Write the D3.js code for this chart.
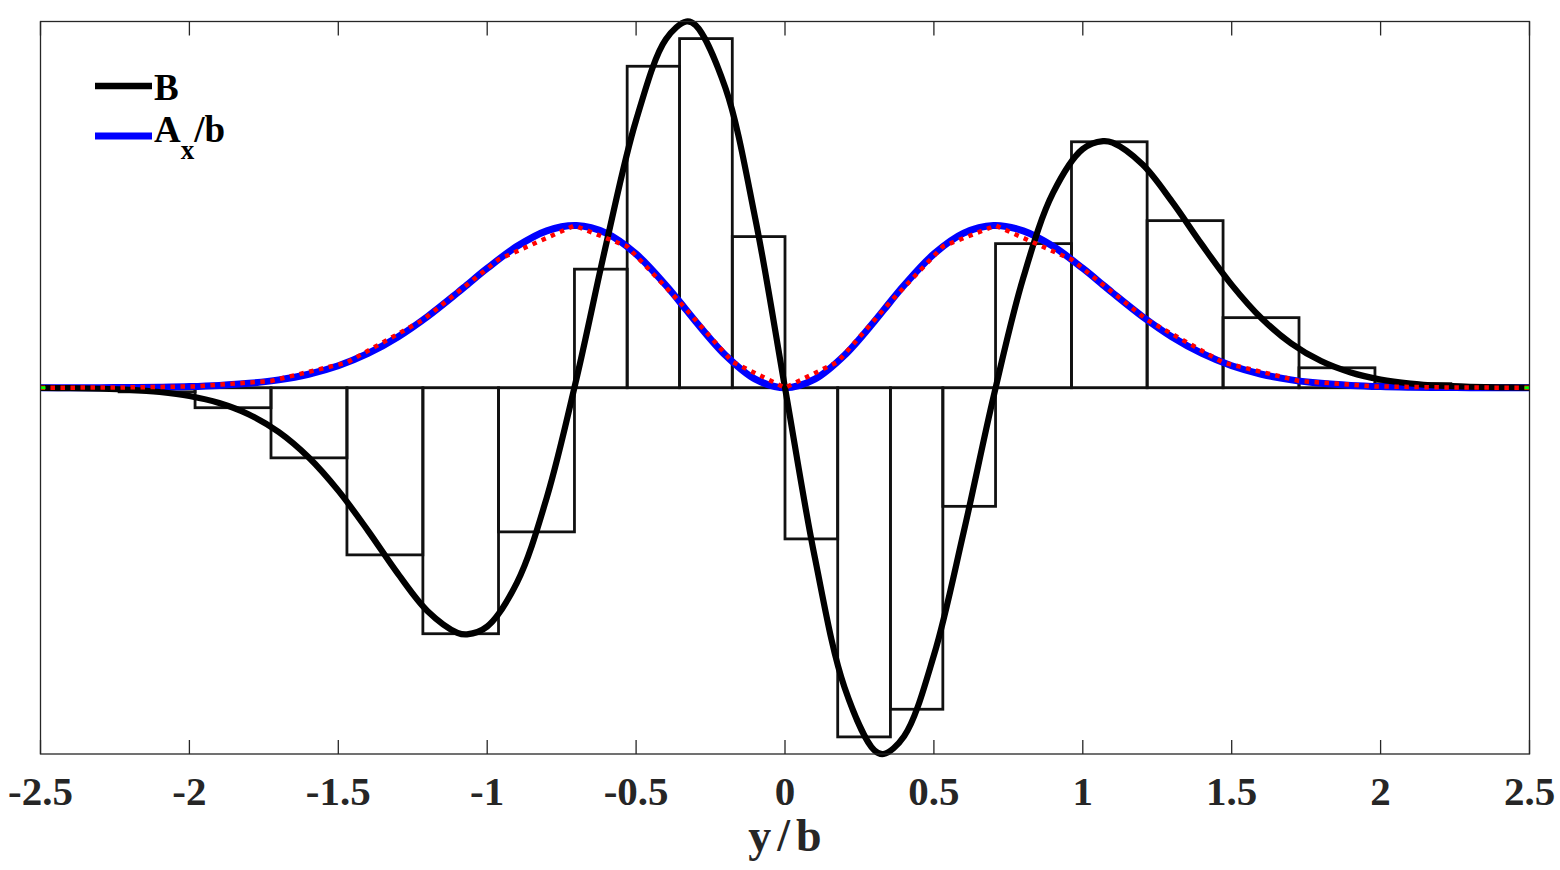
<!DOCTYPE html>
<html>
<head>
<meta charset="utf-8">
<script src="https://cdn.jsdelivr.net/npm/d3@7"></script>
<style>
  html, body { margin: 0; padding: 0; background: #fff; }
  svg { display: block; }
</style>
</head>
<body>
<svg id="chart" width="1560" height="870"></svg>
<script>
// ---------------- data ----------------
const xTicks = [-2.5, -2, -1.5, -1, -0.5, 0, 0.5, 1, 1.5, 2, 2.5];
const xTickLabels = ["-2.5", "-2", "-1.5", "-1", "-0.5", "0", "0.5", "1", "1.5", "2", "2.5"];

// sample positions (y/b) for the smooth curves
const sampleY = [-2.5,-2.4,-2.3,-2.2,-2.1,-2.0,-1.9,-1.8,-1.7,-1.6,-1.5,-1.4,-1.3,-1.2,-1.1,-1.068,-1.0,-0.9,-0.8,-0.7,-0.6,-0.5,-0.4,-0.331,-0.3,-0.2,-0.1,0,
                 0.1,0.2,0.3,0.331,0.4,0.5,0.6,0.7,0.8,0.9,1.0,1.068,1.1,1.2,1.3,1.4,1.5,1.6,1.7,1.8,1.9,2.0,2.1,2.2,2.3,2.4,2.5];

// B (black curve)
const seriesB = [-0.0005,-0.0012,-0.0027,-0.0057,-0.0117,-0.0226,-0.0417,-0.0729,-0.1209,-0.1898,-0.2810,-0.3907,-0.5075,-0.6100,-0.6690,-0.6734,-0.6519,-0.5319,-0.3000,0.0253,0.3939,0.7304,0.9514,1.0000,0.9898,0.8182,0.4627,0,
                 -0.4627,-0.8182,-0.9898,-1.0000,-0.9514,-0.7304,-0.3939,-0.0253,0.3000,0.5319,0.6519,0.6734,0.6690,0.6100,0.5075,0.3907,0.2810,0.1898,0.1209,0.0729,0.0417,0.0226,0.0117,0.0057,0.0027,0.0012,0.0005];

// A_x/b (blue curve)
const seriesA = [0.0001,0.0001,0.0003,0.0007,0.0016,0.0032,0.0064,0.0120,0.0215,0.0369,0.0602,0.0937,0.1386,0.1947,0.2591,0.2806,0.3260,0.3861,0.4285,0.4429,0.4221,0.3652,0.2798,0.2120,0.1811,0.0889,0.0236,0,
                 0.0236,0.0889,0.1811,0.2120,0.2798,0.3652,0.4221,0.4429,0.4285,0.3861,0.3260,0.2806,0.2591,0.1947,0.1386,0.0937,0.0602,0.0369,0.0215,0.0120,0.0064,0.0032,0.0016,0.0007,0.0003,0.0001,0.0001];

// red dotted (discrete A at cell edges)
const redY = [-2.5,-2.236,-1.981,-1.726,-1.471,-1.216,-0.962,-0.707,-0.530,-0.354,-0.177,0,0.177,0.354,0.530,0.707,0.962,1.216,1.471,1.726,1.981,2.236,2.5];
const redA = [0.0001,0.0006,0.0037,0.0185,0.0688,0.1850,0.3502,0.4430,0.3860,0.2345,0.0707,0,0.0707,0.2345,0.3860,0.4430,0.3502,0.1850,0.0688,0.0185,0.0037,0.0006,0.0001];

// bars (cell edges and cell values)
const barEdges = [-2.236,-1.981,-1.726,-1.471,-1.216,-0.962,-0.707,-0.530,-0.354,-0.177,0,0.177,0.354,0.530,0.707,0.962,1.216,1.471,1.726,1.981,2.236];
const barVals  = [-0.0111,-0.0545,-0.1914,-0.4563,-0.6716,-0.3935,0.3238,0.8778,0.9533,0.4127,-0.4127,-0.9533,-0.8778,-0.3238,0.3935,0.6716,0.4563,0.1914,0.0545,0.0111];

// green end markers
const greenY = [-2.5, 2.5];
const greenV = [0, 0];

const legendLabels = ["B", "A", "x", "/b"];
const xLabel = "y/b";

// ---------------- layout ----------------
const L = 40.5, R = 1529.5, T = 21.5, B = 754;
const svg = d3.select("#chart");
const x = d3.scaleLinear().domain([-2.5, 2.5]).range([L, R]);
const y = d3.scaleLinear().domain([-1, 1]).range([B, T]);
const FONT = "'Liberation Serif','Times New Roman',serif";

// bars
const bars = svg.append("g");
barVals.forEach((v, i) => {
  const x0 = x(barEdges[i]), x1 = x(barEdges[i + 1]);
  const y0 = y(0), y1 = y(v);
  bars.append("rect")
    .attr("x", x0).attr("width", x1 - x0)
    .attr("y", Math.min(y0, y1)).attr("height", Math.abs(y1 - y0))
    .attr("fill", "none").attr("stroke", "#111").attr("stroke-width", 2.8);
});

// baseline
svg.append("line")
  .attr("x1", x(-2.5)).attr("x2", x(2.5))
  .attr("y1", y(0)).attr("y2", y(0))
  .attr("stroke", "#111").attr("stroke-width", 2);

const smooth = d3.line().x(d => x(d[0])).y(d => y(d[1])).curve(d3.curveCatmullRom.alpha(0.5));
const straight = d3.line().x(d => x(d[0])).y(d => y(d[1]));

// blue A
svg.append("path")
  .datum(sampleY.map((t, i) => [t, seriesA[i]]))
  .attr("d", smooth)
  .attr("fill", "none").attr("stroke", "#0000ff").attr("stroke-width", 7);

// black B
svg.append("path")
  .datum(sampleY.map((t, i) => [t, seriesB[i]]))
  .attr("d", smooth)
  .attr("fill", "none").attr("stroke", "#000").attr("stroke-width", 6.2)
  .attr("stroke-linejoin", "round");

// red dotted
svg.append("path")
  .datum(redY.map((t, i) => [t, redA[i]]))
  .attr("d", straight)
  .attr("fill", "none").attr("stroke", "#ff0000").attr("stroke-width", 4.5)
  .attr("stroke-dasharray", "4.5,5.5");

// green end markers
svg.append("g").selectAll("rect").data(greenY.map((t, i) => [t, greenV[i]])).enter()
  .append("rect")
  .attr("x", d => x(d[0]) - (d[0] < 0 ? 0 : 5))
  .attr("y", d => y(d[1]) - 1.5)
  .attr("width", 5).attr("height", 3)
  .attr("fill", "#00ff00");

// axes box
svg.append("rect")
  .attr("x", L).attr("y", T).attr("width", R - L).attr("height", B - T)
  .attr("fill", "none").attr("stroke", "#262626").attr("stroke-width", 1.3);

// ticks (inward, top and bottom)
const tk = svg.append("g").attr("stroke", "#262626").attr("stroke-width", 1.3);
xTicks.forEach(t => {
  tk.append("line").attr("x1", x(t)).attr("x2", x(t)).attr("y1", B).attr("y2", B - 14);
  tk.append("line").attr("x1", x(t)).attr("x2", x(t)).attr("y1", T).attr("y2", T + 14);
});

// tick labels
svg.append("g").selectAll("text").data(xTicks).enter()
  .append("text")
  .attr("x", d => x(d)).attr("y", 805)
  .attr("text-anchor", "middle")
  .attr("font-family", FONT).attr("font-weight", "bold").attr("font-size", 41)
  .attr("fill", "#262626")
  .text((d, i) => xTickLabels[i]);

// x label
svg.append("text")
  .attr("x", x(0) + 3).attr("y", 851)
  .attr("text-anchor", "middle")
  .attr("font-family", FONT).attr("font-weight", "bold").attr("font-size", 46)
  .attr("letter-spacing", 6)
  .attr("fill", "#262626")
  .text(xLabel);

// legend
const lg = svg.append("g");
lg.append("line").attr("x1", 95).attr("x2", 152).attr("y1", 86).attr("y2", 86)
  .attr("stroke", "#000").attr("stroke-width", 6.5);
lg.append("text").attr("x", 154).attr("y", 100)
  .attr("font-family", FONT).attr("font-weight", "bold").attr("font-size", 37)
  .attr("fill", "#000").text(legendLabels[0]);
lg.append("line").attr("x1", 95).attr("x2", 152).attr("y1", 136).attr("y2", 136)
  .attr("stroke", "#0000ff").attr("stroke-width", 7);
const t2 = lg.append("text").attr("x", 154).attr("y", 142)
  .attr("font-family", FONT).attr("font-weight", "bold").attr("font-size", 37)
  .attr("fill", "#000");
t2.append("tspan").text(legendLabels[1]);
t2.append("tspan").attr("font-size", 27).attr("dy", 17).text(legendLabels[2]);
t2.append("tspan").attr("dy", -17).text(legendLabels[3]);
</script>
</body>
</html>
